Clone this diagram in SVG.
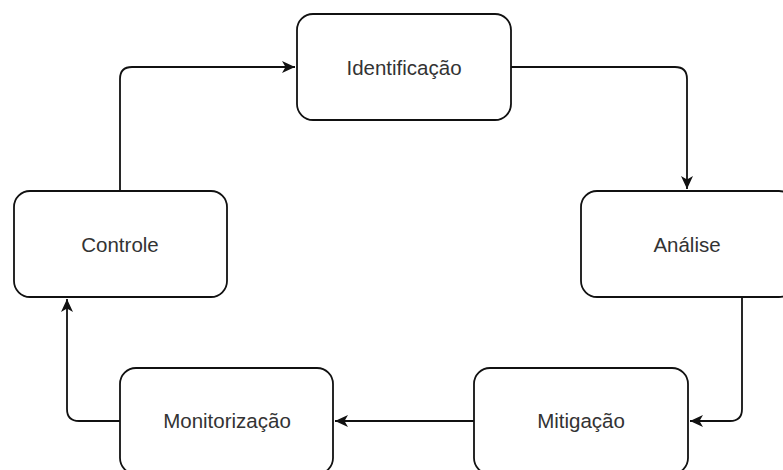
<svg xmlns="http://www.w3.org/2000/svg" width="783" height="470" viewBox="0 0 783 470">
<defs>
<style>
.box{fill:#fff;stroke:#111;stroke-width:1.8}
.lbl{font-family:"Liberation Sans",Arial,sans-serif;font-size:20.5px;fill:#333;text-anchor:middle}
.edge{fill:none;stroke:#111;stroke-width:1.8}
</style>
<marker id="arr" markerUnits="userSpaceOnUse" markerWidth="14" markerHeight="12" refX="13" refY="6" orient="auto" viewBox="0 0 14 12">
<path d="M0,0 L13,6 L0,12 L3.5,6 Z" fill="#111"/>
</marker>
</defs>
<g id="connectors">
<path class="edge" d="M120,191 V79 Q120,67 132,67 H295" marker-end="url(#arr)"/>
<path class="edge" d="M511,67 H675 Q687,67 687,79 V189" marker-end="url(#arr)"/>
<path class="edge" d="M742,297 V409 Q742,421 730,421 H690" marker-end="url(#arr)"/>
<path class="edge" d="M474,421 H335" marker-end="url(#arr)"/>
<path class="edge" d="M120,421 H79 Q67,421 67,409 V299" marker-end="url(#arr)"/>
</g>
<g id="identificacao">
<rect class="box" x="297" y="14" width="214" height="106" rx="16" ry="16"/>
<text class="lbl" x="404" y="75">Identificação</text>
</g>
<g id="analise">
<rect class="box" x="581" y="191" width="214" height="106" rx="16" ry="16"/>
<text class="lbl" x="687" y="252">Análise</text>
</g>
<g id="controle">
<rect class="box" x="14" y="191" width="213" height="106" rx="16" ry="16"/>
<text class="lbl" x="120" y="252">Controle</text>
</g>
<g id="mitigacao">
<rect class="box" x="474" y="368" width="214" height="106" rx="16" ry="16"/>
<text class="lbl" x="581" y="428">Mitigação</text>
</g>
<g id="monitorizacao">
<rect class="box" x="120" y="368" width="213" height="106" rx="16" ry="16"/>
<text class="lbl" x="227" y="428">Monitorização</text>
</g>
</svg>
